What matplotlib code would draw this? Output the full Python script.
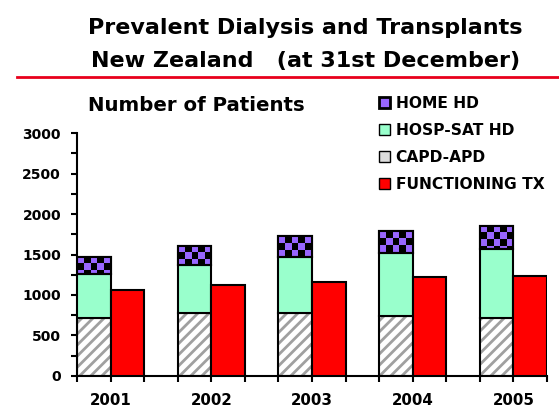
import numpy as np
import matplotlib.pyplot as plt
from matplotlib.patches import Patch
from matplotlib.lines import Line2D
from matplotlib.colors import ListedColormap

plt.rcParams['font.family'] = ['DejaVu Sans']
plt.rcParams['font.weight'] = 'bold'
plt.rcParams['hatch.linewidth'] = 2.0

# data (number of patients)
years = ['2001', '2002', '2003', '2004', '2005']
capd = [720, 778, 778, 745, 716]        # CAPD-APD
hosp = [539, 589, 691, 773, 848]        # HOSP-SAT HD
home = [214, 238, 255, 268, 288]        # HOME HD
tx = [1062, 1123, 1165, 1226, 1238]     # FUNCTIONING TX

purple = '#9966ff'
green = '#99ffcc'
red = '#ff0000'

fig = plt.figure(figsize=(5.59, 4.09), dpi=100)
ax = fig.add_axes([0.1377, 0.0807, 0.8408, 0.5941])

x = np.arange(len(years)) * 3.0
capd = np.array(capd)
hosp = np.array(hosp)
home = np.array(home)

# CAPD-APD: grey diagonal hatch, then black outline
ax.bar(x, capd, width=1.0, color='white', edgecolor='#a0a0a0', hatch='///', linewidth=0, zorder=1)
ax.bar(x, capd, width=1.0, fill=False, edgecolor='black', linewidth=1.5, zorder=4)
ax.bar(x, hosp, width=1.0, bottom=capd, color=green, edgecolor='black', linewidth=1.5, zorder=4)
homebars = ax.bar(x, home, width=1.0, bottom=capd + hosp, color=purple, edgecolor='black',
                  linewidth=1.5, zorder=1)
ax.bar(x, home, width=1.0, bottom=capd + hosp, fill=False, edgecolor='black', linewidth=1.5, zorder=4)
ax.bar(x + 1, tx, width=1.0, color=red, edgecolor='black', linewidth=1.5, zorder=4)

# checkerboard fill for HOME HD
cmap = ListedColormap([purple, 'black'])
cell_h = 86.0
for i, b in enumerate(homebars):
    x0 = x[i] - 0.5
    top = capd[i] + hosp[i] + home[i]
    rows = int(np.ceil(home[i] / cell_h))
    pat = np.add.outer(np.arange(rows), np.arange(5)) % 2
    im = ax.imshow(pat, cmap=cmap, interpolation='nearest', aspect='auto', origin='upper',
                   extent=(x0, x0 + 1, top - rows * cell_h, top), zorder=2)
    im.set_clip_path(b)

ax.set_xlim(-0.5, x[-1] + 1.5)
ax.set_ylim(0, 3000)
ax.set_yticks(np.arange(0, 3001, 500))
ax.set_yticks(np.arange(0, 3001, 250), minor=True)
edges = np.arange(-0.5, x[-1] + 1.6, 1.0)
ax.set_xticks(edges)
xlabels = []
for e in edges:
    k = int(round(e - 0.5))
    xlabels.append(years[k // 3] if k % 3 == 0 else '')
ax.set_xticklabels(xlabels)
ax.tick_params(axis='x', which='major', length=4, width=1.5, direction='out', labelsize=10.8, pad=8.5)
ax.tick_params(axis='y', which='both', length=4.5, width=1.5, direction='out', labelsize=10, pad=7)
for t in ax.get_xticklabels() + ax.get_yticklabels():
    t.set_fontweight('bold')
for s in ['top', 'right']:
    ax.spines[s].set_visible(False)
for s in ['left', 'bottom']:
    ax.spines[s].set_linewidth(1.5)

fig.text(0.546, 0.917, 'Prevalent Dialysis and Transplants', ha='center', va='baseline',
         fontsize=16, fontweight='bold')
fig.text(0.546, 0.836, 'New Zealand   (at 31st December)', ha='center', va='baseline',
         fontsize=16, fontweight='bold')
fig.add_artist(Line2D([0.03, 1.0], [0.812, 0.812], color='#e8001c', linewidth=2))
fig.text(0.157, 0.729, 'Number of Patients', ha='left', va='baseline', fontsize=14.2, fontweight='bold')

handles = [
    Patch(facecolor=purple, edgecolor='black', linewidth=2),
    Patch(facecolor=green, edgecolor='black', linewidth=1),
    Patch(facecolor='#dddddd', edgecolor='black', linewidth=1),
    Patch(facecolor=red, edgecolor='black', linewidth=1),
]
labels = ['HOME HD', 'HOSP-SAT HD', 'CAPD-APD', 'FUNCTIONING TX']
fig.legend(handles, labels, loc='upper left', bbox_to_anchor=(0.678, 0.765), frameon=False,
           handlelength=0.72, handleheight=0.72, handletextpad=0.35, labelspacing=0.77,
           borderpad=0, borderaxespad=0, prop={'size': 11.2, 'weight': 'bold'})

fig.savefig('out.png', dpi=100)
